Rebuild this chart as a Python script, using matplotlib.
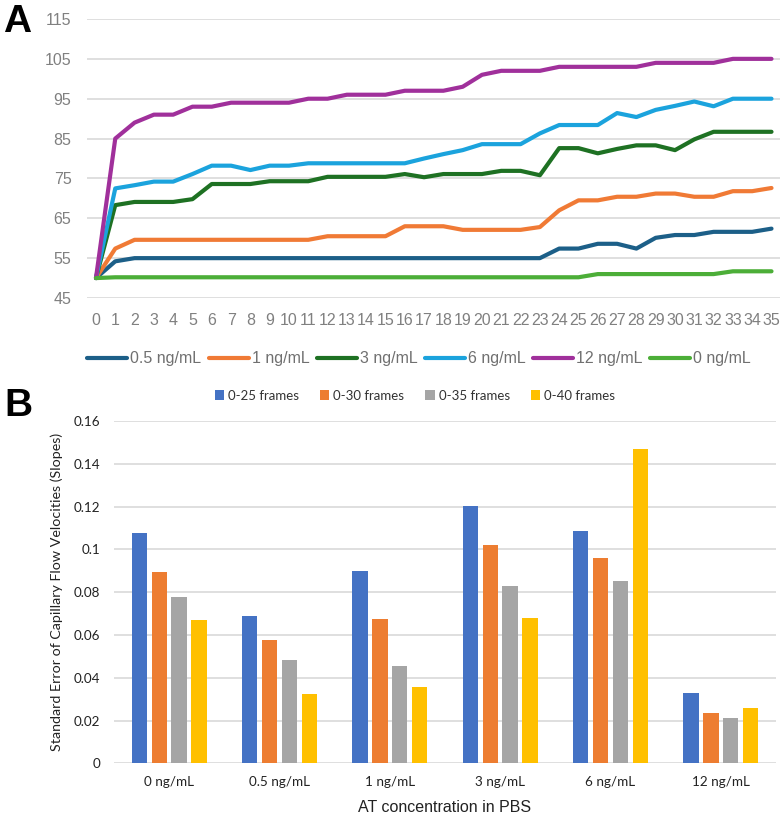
import matplotlib
matplotlib.use("Agg")
import matplotlib.pyplot as plt
from matplotlib.lines import Line2D
from matplotlib.patches import Patch
import numpy as np

# ---- panel A data: flow front position per frame ----
frames = list(range(36))
conc_05 = [50, 54.2] + [55] * 22 + [57.4, 57.4, 58.6, 58.6, 57.4, 60.1, 60.8, 60.8,
                                   61.6, 61.6, 61.6, 62.4]
conc_1 = [50, 57.4, 59.6, 59.6, 59.6, 59.6, 59.6, 59.6, 59.6, 59.6, 59.6, 59.6,
          60.5, 60.5, 60.5, 60.5, 63, 63, 63, 62.1, 62.1, 62.1, 62.1, 62.8,
          67, 69.5, 69.5, 70.4, 70.4, 71.2, 71.2, 70.4, 70.4, 71.8, 71.8, 72.6]
conc_3 = [50, 68.3, 69.1, 69.1, 69.1, 69.8, 73.6, 73.6, 73.6, 74.3, 74.3, 74.3,
          75.4, 75.4, 75.4, 75.4, 76.1, 75.3, 76.1, 76.1, 76.1, 76.9, 76.9, 75.8,
          82.6, 82.6, 81.3, 82.4, 83.3, 83.3, 82.1, 84.8, 86.7, 86.7, 86.7, 86.7]
conc_6 = [50, 72.5, 73.3, 74.2, 74.2, 76.1, 78.2, 78.2, 77.1, 78.2, 78.2, 78.8,
          78.8, 78.8, 78.8, 78.8, 78.8, 80, 81.1, 82.1, 83.6, 83.6, 83.6, 86.3,
          88.4, 88.4, 88.4, 91.4, 90.4, 92.2, 93.2, 94.3, 93.1, 95, 95, 95]
conc_12 = [50, 85, 89, 91, 91, 93, 93, 94, 94, 94, 94, 95, 95, 96, 96, 96,
           97, 97, 97, 98, 101, 102, 102, 102, 103, 103, 103, 103, 103,
           104, 104, 104, 104, 105, 105, 105]
conc_0 = [50] + [50.2] * 25 + [51] * 7 + [51.7] * 3

line_labels = ["0.5 ng/mL", "1 ng/mL", "3 ng/mL", "6 ng/mL", "12 ng/mL", "0 ng/mL"]
line_series = [conc_05, conc_1, conc_3, conc_6, conc_12, conc_0]
line_colors = ["#1c5f88", "#f07a35", "#1e7123", "#1ba3dd", "#a0309b", "#4cae38"]

# ---- panel B data: standard error of slopes ----
categories = ["0 ng/mL", "0.5 ng/mL", "1 ng/mL", "3 ng/mL", "6 ng/mL", "12 ng/mL"]
frames_25 = [0.1078, 0.0690, 0.0897, 0.1202, 0.1087, 0.0327]
frames_30 = [0.0893, 0.0578, 0.0676, 0.1022, 0.0960, 0.0234]
frames_35 = [0.0776, 0.0483, 0.0456, 0.0830, 0.0854, 0.0213]
frames_40 = [0.0668, 0.0326, 0.0358, 0.0678, 0.1469, 0.0259]
bar_labels = ["0-25 frames", "0-30 frames", "0-35 frames", "0-40 frames"]
bar_series = [frames_25, frames_30, frames_35, frames_40]
bar_colors = ["#4472C4", "#ED7D31", "#A5A5A5", "#FFC000"]

W, H = 784, 817
fig = plt.figure(figsize=(W / 100, H / 100), dpi=100)
grid_c = "#d9d9d9"
sans = ["Liberation Sans", "DejaVu Sans"]
office = ["Lato", "DejaVu Sans"]

# ---------------- panel A ----------------
axA = fig.add_axes([86.7 / W, 1 - 298 / H, (780 - 86.7) / W, (298 - 19) / H])
for vals, c in zip(line_series, line_colors):
    axA.plot(frames, vals, color=c, lw=3, solid_joinstyle="round", solid_capstyle="round")
axA.set_xlim(-0.48, 35.44)
axA.set_ylim(45, 115)
axA.set_yticks(np.arange(45, 116, 10))
axA.set_xticks(frames)
axA.grid(axis="y", color=grid_c, lw=1.2)
axA.set_axisbelow(True)
for s in axA.spines.values():
    s.set_visible(False)
axA.tick_params(axis="both", length=0, labelcolor="#808080", labelsize=11.5)
axA.tick_params(axis="x", pad=10.5)
axA.tick_params(axis="y", pad=11)
for t in axA.get_xticklabels() + axA.get_yticklabels():
    t.set_family(sans)

handlesA = [Line2D([], [], color=c, lw=3, solid_capstyle="round") for c in line_colors]
fig.legend(handlesA, line_labels, loc="center", ncol=6, frameon=False,
           bbox_to_anchor=(419 / W, 1 - 359 / H), handlelength=2.5,
           handletextpad=0.2, columnspacing=0.45,
           prop={"family": sans, "size": 11.5}, labelcolor="#707070")

fig.text(3 / W, 1 - 22 / H, "A", fontsize=28, fontweight="bold",
         family=sans, va="center", ha="left")

# ---------------- panel B ----------------
axB = fig.add_axes([114 / W, 1 - 763.3 / H, (776 - 114) / W, (763.3 - 421) / H])
x = np.arange(len(categories))
step = 0.181
width = 0.139
for i, (vals, c) in enumerate(zip(bar_series, bar_colors)):
    axB.bar(x + (i - 1.5) * step, vals, width=width, color=c, zorder=3)
axB.set_xlim(-0.5, len(categories) - 0.5)
axB.set_ylim(0, 0.16)
axB.set_yticks(np.arange(0, 0.161, 0.02))
axB.set_yticklabels(["0", "0.02", "0.04", "0.06", "0.08", "0.1", "0.12", "0.14", "0.16"])
axB.set_xticks(x)
axB.set_xticklabels(categories)
axB.grid(axis="y", color=grid_c, lw=1.2)
axB.set_axisbelow(True)
for s in axB.spines.values():
    s.set_visible(False)
axB.tick_params(axis="both", length=0, labelcolor="#222222", labelsize=9.7)
axB.tick_params(axis="x", pad=9)
axB.tick_params(axis="y", pad=10)
for t in axB.get_xticklabels() + axB.get_yticklabels():
    t.set_family(office)

axB.set_ylabel("Standard Error of Capillary Flow Velocities (Slopes)",
               family=office, fontsize=10.3, color="#222222")
axB.yaxis.set_label_coords(-0.077, 0.5)
axB.set_xlabel("AT concentration in PBS", family=sans, fontsize=11.5, color="#222222")
axB.xaxis.set_label_coords(0.5, -0.13)
axB.xaxis.label.set_va("center")

handlesB = [Patch(facecolor=c) for c in bar_colors]
fig.legend(handlesB, bar_labels, loc="center", ncol=4, frameon=False,
           bbox_to_anchor=(415 / W, 1 - 395.7 / H), handlelength=0.7,
           handleheight=0.7, handletextpad=0.3, columnspacing=1.6,
           prop={"family": office, "size": 9.5}, labelcolor="#333333")

fig.text(4 / W, 1 - 406 / H, "B", fontsize=28, fontweight="bold",
         family=sans, va="center", ha="left")

fig.savefig("out.png", dpi=100)
